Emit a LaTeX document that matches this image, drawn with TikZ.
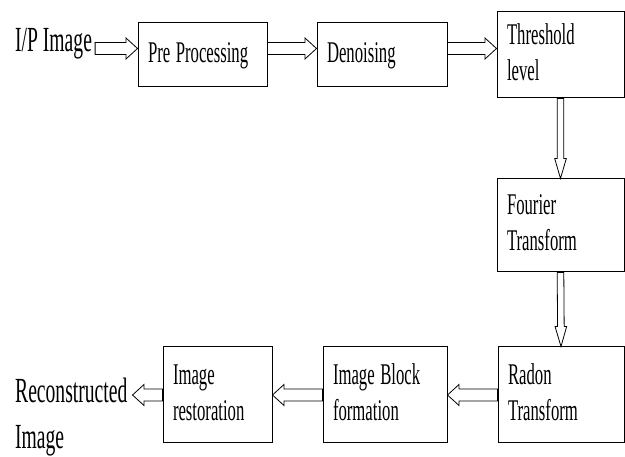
\documentclass[tikz,border=0pt]{standalone}
\usepackage{fontspec}
\setmainfont{Liberation Serif}
\usepackage{graphicx}
\usetikzlibrary{calc}
\newcommand{\tallrows}[1]{\scalebox{1}[1.8]{\begin{tabular}{@{}l@{}}#1\end{tabular}}}
\begin{document}
\begin{tikzpicture}[x=1pt,y=-1pt,
	khoi/.style={draw,line width=1pt,inner xsep=10pt,inner ysep=0pt,align=left,font=\fontsize{16.7}{20}\selectfont},
	nhan/.style={font=\fontsize{19.6}{25.4}\selectfont},
	muiten/.style={line width=0.8pt,to path={let \p1=(\tikztostart),\p2=(\tikztotarget),\p3=($(\p2)!\dai!(\p1)$) in
		($(\p1)!\than!90:(\p2)$) -- ($(\p3)!\than!90:(\p2)$) -- ($(\p3)!\rong!90:(\p2)$) -- (\p2)
		-- ($(\p3)!\rong!-90:(\p2)$) -- ($(\p3)!\than!-90:(\p2)$) -- ($(\p1)!\than!-90:(\p2)$) -- cycle}},
	ngang/.style={muiten,/utils/exec={\def\than{6pt}\def\rong{10.5pt}\def\dai{11.5pt}}},
	doc/.style={muiten,/utils/exec={\def\than{3.3pt}\def\rong{5.8pt}\def\dai{20pt}}}]
	\useasboundingbox (0,0) rectangle (625,457);
	% hang tren
	\node[nhan,anchor=base west,inner xsep=3pt] (ip) at (12,51.7) {\scalebox{1}[1.8]{I/P Image}};
	\node[khoi,text width=109pt,minimum height=64pt] (pre) at (202.5,55) {\tallrows{Pre Processing}};
	\node[khoi,text width=110pt,minimum height=64pt] (den) at (382,55) {\tallrows{Denoising}};
	\node[khoi,text width=107pt,minimum height=86pt] (thr) at (560.5,55) {\tallrows{Threshold\\level}};
	\node[khoi,text width=107pt,minimum height=93pt] (fou) at (560.5,225.5) {\tallrows{Fourier\\Transform}};
	% hang duoi
	\node[khoi,text width=106pt,minimum height=96pt] (rad) at (561,395) {\tallrows{Radon\\Transform}};
	\node[khoi,text width=104pt,minimum height=96pt] (blk) at (385,395) {\tallrows{Image Block\\formation}};
	\node[khoi,text width=89pt,minimum height=96pt] (res) at (217.5,395) {\tallrows{Image\\restoration}};
	\node[nhan,anchor=west,inner xsep=5pt,inner ysep=0pt] (rec) at (10,416.4) {\tallrows{Reconstructed\\Image}};
	\draw[ngang] ([yshift=6.5pt]pre.west -| ip.east) to ([yshift=6.5pt]pre.west);
	\draw[ngang] ([yshift=6.5pt]pre.east) to ([yshift=6.5pt]den.west);
	\draw[ngang] ([yshift=6.5pt]den.east) to ([yshift=6.5pt]thr.west);
	\draw[doc] (thr.south) to (fou.north);
	\draw[doc] (fou.south) to (rad.north);
	\draw[ngang] (rad.west) to (blk.east);
	\draw[ngang] (blk.west) to (res.east);
	\draw[ngang] (res.west) to (rec.east |- res.west);
\end{tikzpicture}
\end{document}
